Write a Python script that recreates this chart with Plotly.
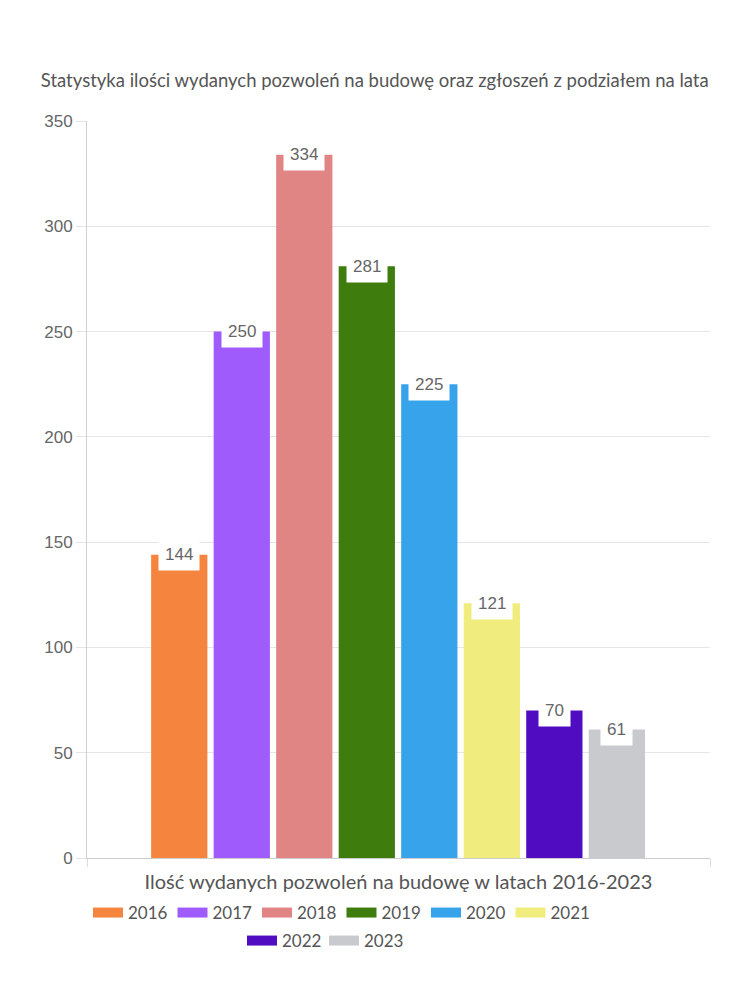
import plotly.graph_objects as go

years = ["2016", "2017", "2018", "2019", "2020", "2021", "2022", "2023"]
values = [144, 250, 334, 281, 225, 121, 70, 61]
colors = ["#F5843F", "#A05BFD", "#E08484", "#3E7D0D", "#37A3EA", "#F0EC7E", "#500CC1", "#C9CACE"]
legend_rows = ["legend", "legend", "legend", "legend", "legend", "legend", "legend2", "legend2"]
title_text = "Statystyka ilości wydanych pozwoleń na budowę oraz zgłoszeń z podziałem na lata"
x_title = "Ilość wydanych pozwoleń na budowę w latach 2016-2023"

positions = list(range(len(years)))
x_range = [-1.476, len(years) - 0.5 + 0.99]

fig = go.Figure()
for i, (yr, v, c) in enumerate(zip(years, values, colors)):
    fig.add_trace(go.Bar(
        x=[positions[i]], y=[v], name=yr,
        marker=dict(color=c, line=dict(width=0)),
        hoverinfo="skip", showlegend=False,
    ))
    # legend entry drawn as a wide swatch
    fig.add_trace(go.Scatter(
        x=[None], y=[None], mode="lines", name=yr,
        line=dict(color=c, width=18),
        hoverinfo="skip", legend=legend_rows[i],
    ))
    fig.add_annotation(
        x=positions[i], y=v, text=str(v), showarrow=False,
        yanchor="middle", xanchor="center",
        bgcolor="white", borderpad=6,
        font=dict(family="Liberation Sans, Arial", size=17, color="#666666"),
    )

legend_font = dict(family="Lato", size=17, color="#555555")
fig.update_layout(
    width=750, height=1000,
    paper_bgcolor="white", plot_bgcolor="white",
    margin=dict(l=79, r=48, t=113, b=150),
    barmode="overlay",
    bargap=0.1,
    title=dict(text=title_text, x=0.489, xanchor="center", y=1 - 73 / 1000, yanchor="middle",
               font=dict(family="Lato", size=18.5, color="#555555")),
    showlegend=True,
    legend=dict(
        orientation="h", x=0.0016, xanchor="left", y=-0.0502, yanchor="top",
        font=legend_font, entrywidth=39.5, entrywidthmode="pixels",
        itemwidth=30, traceorder="normal", itemclick=False,
    ),
    legend2=dict(
        orientation="h", x=0.2488, xanchor="left", y=-0.0882, yanchor="top",
        font=legend_font, entrywidth=37, entrywidthmode="pixels",
        itemwidth=30, traceorder="normal", itemclick=False,
    ),
    xaxis=dict(
        range=x_range, automargin=False,
        tickmode="array",
        tickvals=[x_range[0] + 1e-6, x_range[1] - 1e-6],
        ticktext=["", ""],
        ticks="outside", ticklen=8, tickcolor="#dddddd",
        showgrid=True, gridcolor="#e3e3e3",
        showline=True, linecolor="#cccccc", linewidth=1,
        zeroline=False, fixedrange=True,
        title=dict(text=x_title, standoff=6,
                   font=dict(family="Lato", size=20, color="#555555")),
    ),
    yaxis=dict(
        range=[0, 350], dtick=50, tick0=0, automargin=False,
        ticks="outside", ticklen=10, tickcolor="#e3e3e3",
        showgrid=True, gridcolor="#e6e6e6",
        showline=True, linecolor="#d0d0d0",
        zeroline=False, fixedrange=True,
        tickfont=dict(family="Liberation Sans, Arial", size=17, color="#666666"),
    ),
)

fig.write_html("out.html")
